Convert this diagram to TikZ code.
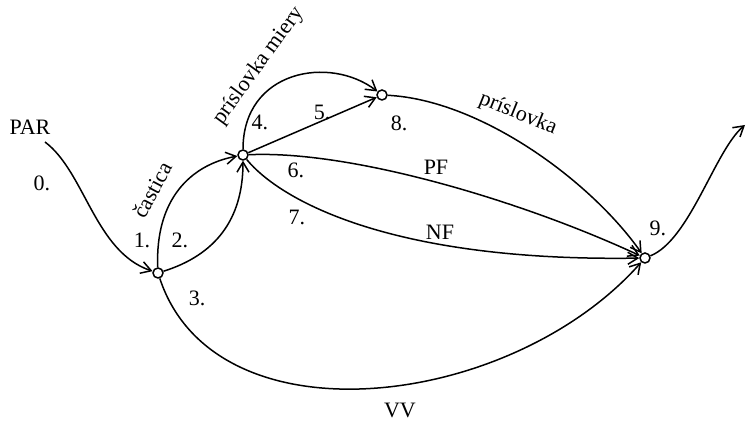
\documentclass[tikz,border=0pt]{standalone}
\usepackage{fontspec}
\setmainfont{Liberation Serif}
\usetikzlibrary{arrows.meta,positioning}
\begin{document}
\begin{tikzpicture}[x=0.5pt, y=-0.5pt, font=\fontsize{11}{13}\selectfont]
\tikzstyle{state} = [circle, draw, line width=0.75pt, inner sep=0pt, minimum size=5pt]
\tikzstyle{arrow} = [line width=0.75pt, ->, >={Straight Barb[length=5pt,width=6pt]}]
\tikzstyle{lab} = [inner sep=1pt]
\useasboundingbox (0,0) rectangle (752,427);

% states
\node (PAR) at (30,127) {PAR};
\coordinate (pin) at (45,142);
\node (S1) [state] at (158,273) {};
\node (S2) [state] at (243,155) {};
\node (S3) [state] at (382,95) {};
\node (S4) [state] at (645,258) {};
\coordinate (pout) at (745,125);

% transitions
\draw [arrow] (pin) .. controls (85,172) and (95,252) .. (S1);
\draw [arrow] (S1) .. controls (155,200) and (190,165) .. (S2);
\draw [arrow] (S1) .. controls (215,255) and (243,220) .. (S2);
\draw [arrow] (S1) .. controls (215,445) and (510,410) .. (S4);
\draw [arrow] (S2) .. controls (243,70) and (330,55) .. (S3);
\draw [arrow] (S2) -- (S3);
\draw [arrow] (S3) .. controls (480,100) and (590,180) .. (S4);
\draw [arrow] (S2) .. controls (350,150) and (520,200) .. (S4);
\draw [arrow] (S2) .. controls (280,200) and (390,262) .. (S4);
\draw [arrow] (S4) .. controls (690,240) and (715,150) .. (pout);

% labels
\node (l0) [lab] at (42,183) {0.};
\node (l1) [lab] at (142,240) {1.};
\node (l2) [lab] at (180,240) {2.};
\node (l3) [lab] at (197,298) {3.};
\node (l4) [lab] at (260,122) {4.};
\node (l5) [lab] at (322,112) {5.};
\node (l6) [lab] at (296,170) {6.};
\node (l7) [lab] at (297,217) {7.};
\node (l8) [lab] at (399,123) {8.};
\node (l9) [lab] at (658,228) {9.};
\node (cast) [lab, rotate=62] at (152,190) {častica};
\node (miery) [lab, rotate=54] at (259,66) {príslovka miery};
\node (prisl) [lab, rotate=-22] at (518,114) {príslovka};
\node (PF) [lab] at (436,167) {PF};
\node (NF) [lab] at (440,232) {NF};
\node (VV) [lab] at (400,410) {VV};
\end{tikzpicture}
\end{document}
